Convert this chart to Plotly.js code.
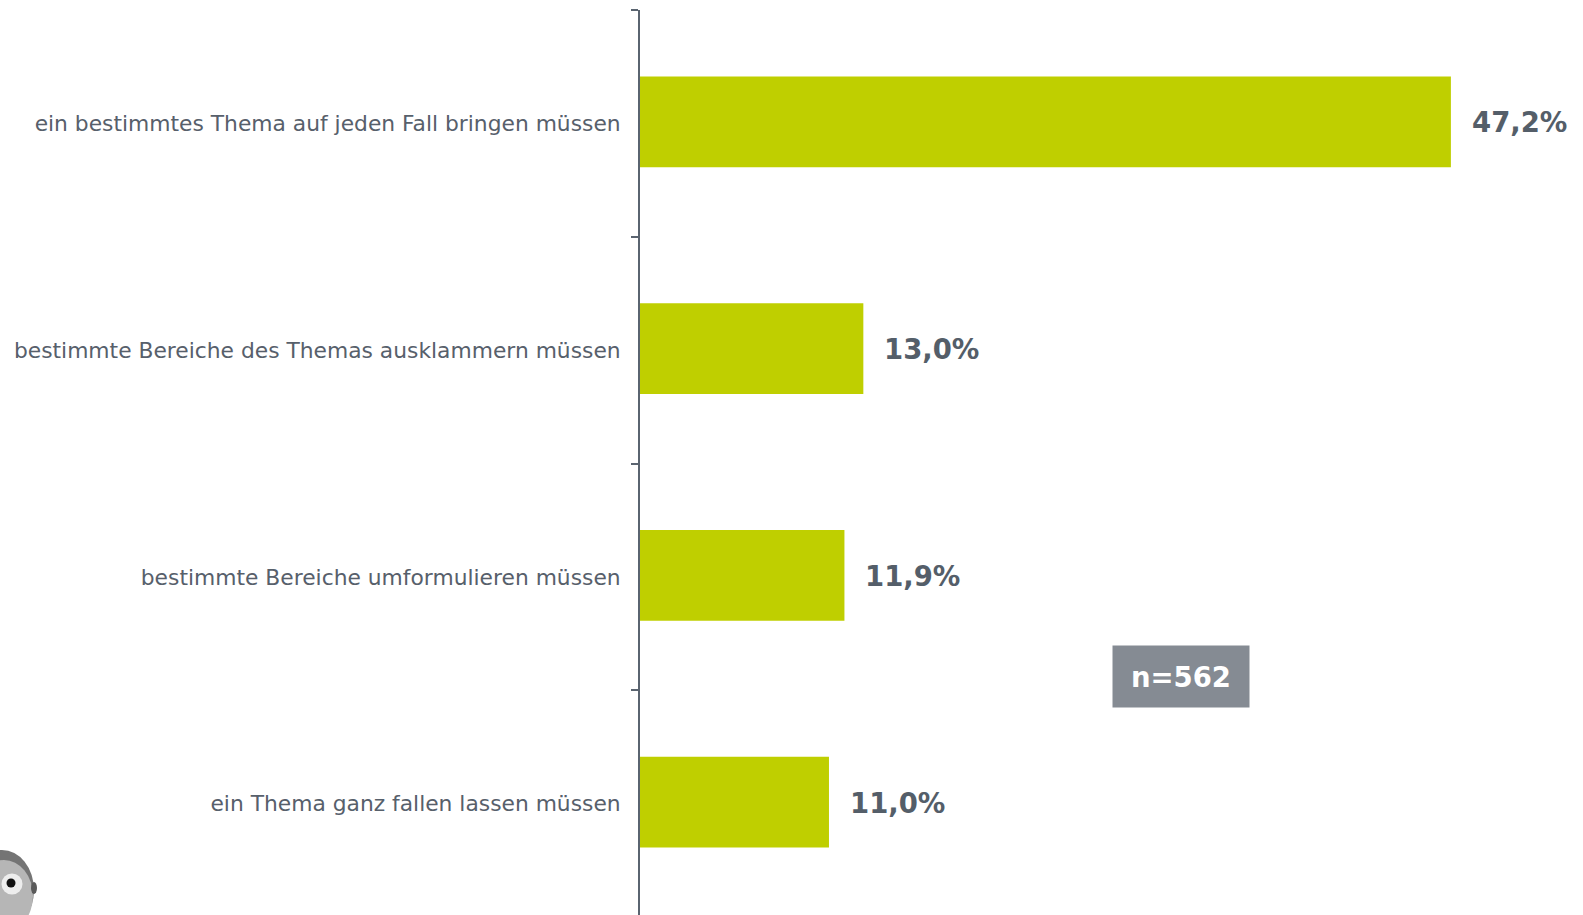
<!DOCTYPE html>
<html>
<head>
<meta charset="utf-8">
<script src="https://cdn.plot.ly/plotly-3.0.1.min.js"></script>
<style>html,body{margin:0;padding:0;background:#fff;overflow:hidden;width:1583px;height:915px;}#chart{width:1583px;height:923px;}</style>
</head>
<body>
<div id="chart"></div>
<script>
const categories = [
  "ein bestimmtes Thema auf jeden Fall bringen müssen",
  "bestimmte Bereiche des Themas ausklammern müssen",
  "bestimmte Bereiche umformulieren müssen",
  "ein Thema ganz fallen lassen müssen"
];
const values = [47.2, 13.0, 11.9, 11.0];
const sampleLabel = "n=562";

const W = 1583, H = 923;
const mL = 640, mR = 13, mT = 10, mB = 6;
const plotW = W - mL - mR, plotH = H - mT - mB;
const plotBottom = H - mB;

function fmt(v){ return v.toFixed(1).replace('.', ',') + '%'; }

const trace = {
  type: 'bar',
  orientation: 'h',
  y: categories,
  x: values,
  width: 0.4,
  offset: -0.207,
  marker: {color: '#bfcf00'},
  hoverinfo: 'skip'
};

const annotations = categories.map((c, i) => ({
  x: values[i], y: c, xref: 'x', yref: 'y',
  text: '<b>' + fmt(values[i]) + '</b>', showarrow: false,
  xanchor: 'left', yanchor: 'middle', xshift: 19, yshift: 1,
  font: {family: 'DejaVu Sans, Verdana, sans-serif', size: 27.5, color: '#545e69'}
}));

annotations.push({
  xref: 'paper', yref: 'paper',
  x: (1181 - mL) / plotW, y: (plotBottom - 677) / plotH,
  xanchor: 'center', yanchor: 'middle',
  text: '<b>' + sampleLabel + '</b>', showarrow: false,
  bgcolor: '#858b93', width: 136, height: 61, borderpad: 0,
  font: {family: 'DejaVu Sans, Verdana, sans-serif', size: 27.5, color: '#ffffff'}
});

// decorative logo fragment bottom-left (pixel coordinates)
function ell(cx, cy, rx, ry, color){
  return {
    type: 'circle', xref: 'paper', yref: 'paper',
    xsizemode: 'pixel', ysizemode: 'pixel', xanchor: 0, yanchor: 0,
    x0: cx - rx - mL, x1: cx + rx - mL,
    y0: plotBottom - (cy + ry), y1: plotBottom - (cy - ry),
    fillcolor: color, line: {width: 0}, layer: 'above'
  };
}
const shapes = [
  ell(2, 890, 32, 40, '#747474'),
  ell(4, 896, 29, 36, '#b6b6b6'),
  ell(12, 884, 10.5, 10.5, '#ededed'),
  ell(11, 883, 4.5, 4.5, '#111111'),
  ell(34, 888, 3, 6, '#5a5a5a')
];

const layout = {
  width: W, height: H,
  margin: {l: mL, r: mR, t: mT, b: mB, pad: 0},
  paper_bgcolor: '#ffffff', plot_bgcolor: '#ffffff',
  showlegend: false,
  xaxis: {range: [0, plotW / 17.18], visible: false, fixedrange: true},
  yaxis: {
    type: 'category', autorange: 'reversed',
    showline: true, linecolor: '#5a6470', linewidth: 2,
    ticks: 'outside', tickson: 'boundaries', ticklen: 7, tickwidth: 2, tickcolor: '#5a6470',
    showgrid: false, zeroline: false,
    ticklabelstandoff: 13,
    tickfont: {family: 'DejaVu Sans, Verdana, sans-serif', size: 21.8, color: '#57606b'}
  },
  annotations: annotations,
  shapes: shapes
};

Plotly.newPlot('chart', [trace], layout, {displayModeBar: false, staticPlot: true});
</script>
</body>
</html>
